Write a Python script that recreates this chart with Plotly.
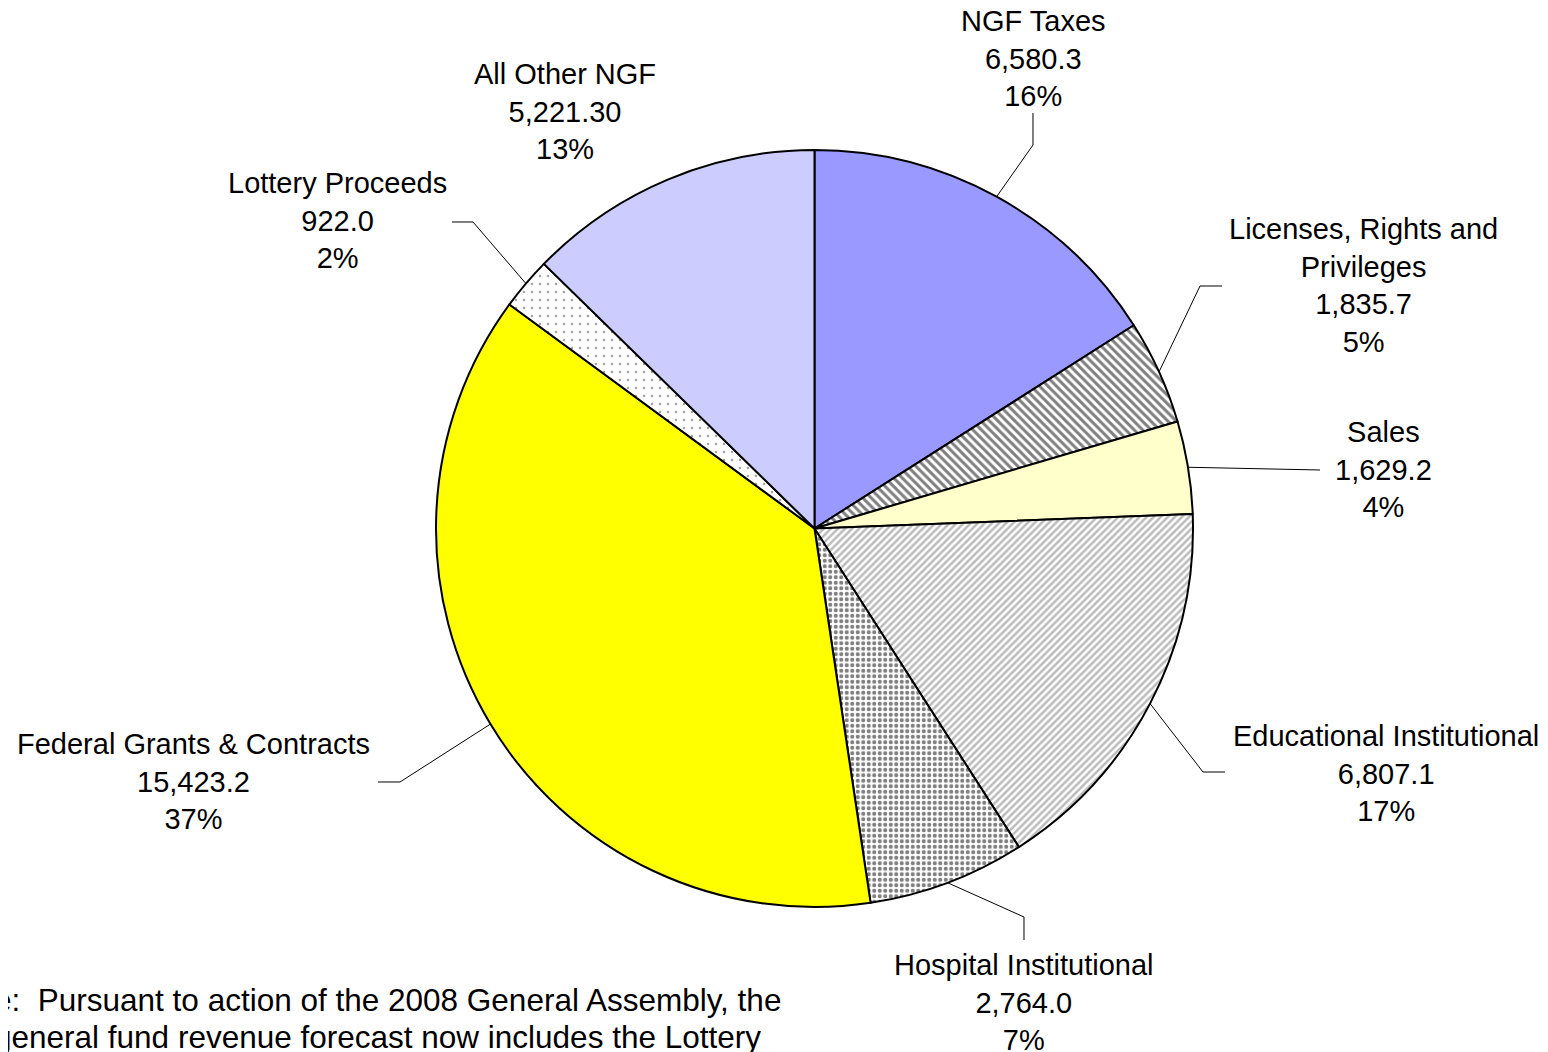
import math
import plotly.graph_objects as go

W, H = 1548, 1052
OFF = 8  # page body margin in the browser

categories = ["NGF Taxes", "Licenses, Rights and<br>Privileges", "Sales",
              "Educational Institutional", "Hospital Institutional",
              "Federal Grants & Contracts", "Lottery Proceeds", "All Other NGF"]
values = [6580.3, 1835.7, 1629.2, 6807.1, 2764.0, 15423.2, 922.0, 5221.30]
value_labels = ["6,580.3", "1,835.7", "1,629.2", "6,807.1", "2,764.0", "15,423.2", "922.0", "5,221.30"]
pct_labels = ["16%", "5%", "4%", "17%", "7%", "37%", "2%", "13%"]

colors = ["#9999FF", "white", "#FFFFCC", "white", "white", "#FFFF00", "white", "#CCCCFF"]
shapes_pat = ["", "\\", "", "/", ".", "", ".", ""]
fgcolors = ["black", "black", "black", "#777777", "black", "black", "#444444", "black"]
sizes = [8, 6, 8, 5, 5.5, 8, 8, 8]
solid = [0.3, 0.5, 0.3, 0.5, 0.45, 0.3, 0.08, 0.3]


def px(x):
    return (x - OFF) / W


def py(y):
    return 1 - (y - OFF) / H


# pie geometry in screen pixels
cx, cy, R = 814.5, 528.5, 378.5

# label block centres (screen px)
label_pos = [(1033, 59), (1363, 285), (1383, 470), (1386, 773),
             (1024, 1002), (193, 781), (337, 220), (565, 111)]
# leader line elbow / end points (screen px); None = no leader
leaders = [((1033, 145), (1033, 113)), ((1200, 286), (1222, 286)),
           ((1320, 470), (1320, 470)), ((1203, 772), (1225, 772)),
           ((1024, 917), (1024, 940)), ((400, 782), (378, 782)),
           ((473, 222), (452, 222)), None]

fig = go.Figure(go.Pie(
    values=values,
    labels=[c.replace("<br>", " ") for c in categories],
    sort=False, direction="clockwise", rotation=0,
    textinfo="none", hoverinfo="label+value+percent",
    marker=dict(colors=colors, line=dict(color="black", width=2),
                pattern=dict(shape=shapes_pat, fgcolor=fgcolors, bgcolor=colors,
                             size=sizes, solidity=solid, fillmode="overlay")),
    domain=dict(x=[px(cx - R), px(cx + R)], y=[py(cy + R), py(cy - R)]),
    showlegend=False,
))

font = dict(family="Liberation Sans, Arial, sans-serif", size=29, color="black")
note_font = dict(family="Liberation Sans, Arial, sans-serif", size=31.5, color="black")
total = sum(values)
cum = 0.0
annotations = []
shapes = []
for i, v in enumerate(values):
    mid = (cum + v / 2) / total
    cum += v
    ang = 2 * math.pi * mid
    sx, sy = cx + R * math.sin(ang), cy - R * math.cos(ang)
    lx, ly = label_pos[i]
    annotations.append(dict(
        x=px(lx), y=py(ly), xref="paper", yref="paper",
        text=f"{categories[i]}<br>{value_labels[i]}<br>{pct_labels[i]}",
        showarrow=False, font=font, align="center", xanchor="center", yanchor="middle"))
    if leaders[i] is not None:
        (ex, ey), (fx, fy) = leaders[i]
        pts = [(sx, sy), (ex, ey), (fx, fy)]
        path = "M " + " L ".join(f"{px(x):.5f},{py(y):.5f}" for x, y in pts)
        shapes.append(dict(type="path", path=path, xref="paper", yref="paper",
                           line=dict(color="black", width=1)))

annotations.append(dict(x=px(783), y=py(1000), xref="paper", yref="paper",
                        text="Note:  Pursuant to action of the 2008 General Assembly, the",
                        showarrow=False, font=note_font, xanchor="right", yanchor="middle"))
annotations.append(dict(x=px(763), y=py(1037), xref="paper", yref="paper",
                        text="general fund revenue forecast now includes the Lottery",
                        showarrow=False, font=note_font, xanchor="right", yanchor="middle"))

fig.update_layout(width=W, height=H, margin=dict(l=0, r=0, t=0, b=0),
                  paper_bgcolor="white", plot_bgcolor="white",
                  annotations=annotations, shapes=shapes)
fig.write_html("out.html")
